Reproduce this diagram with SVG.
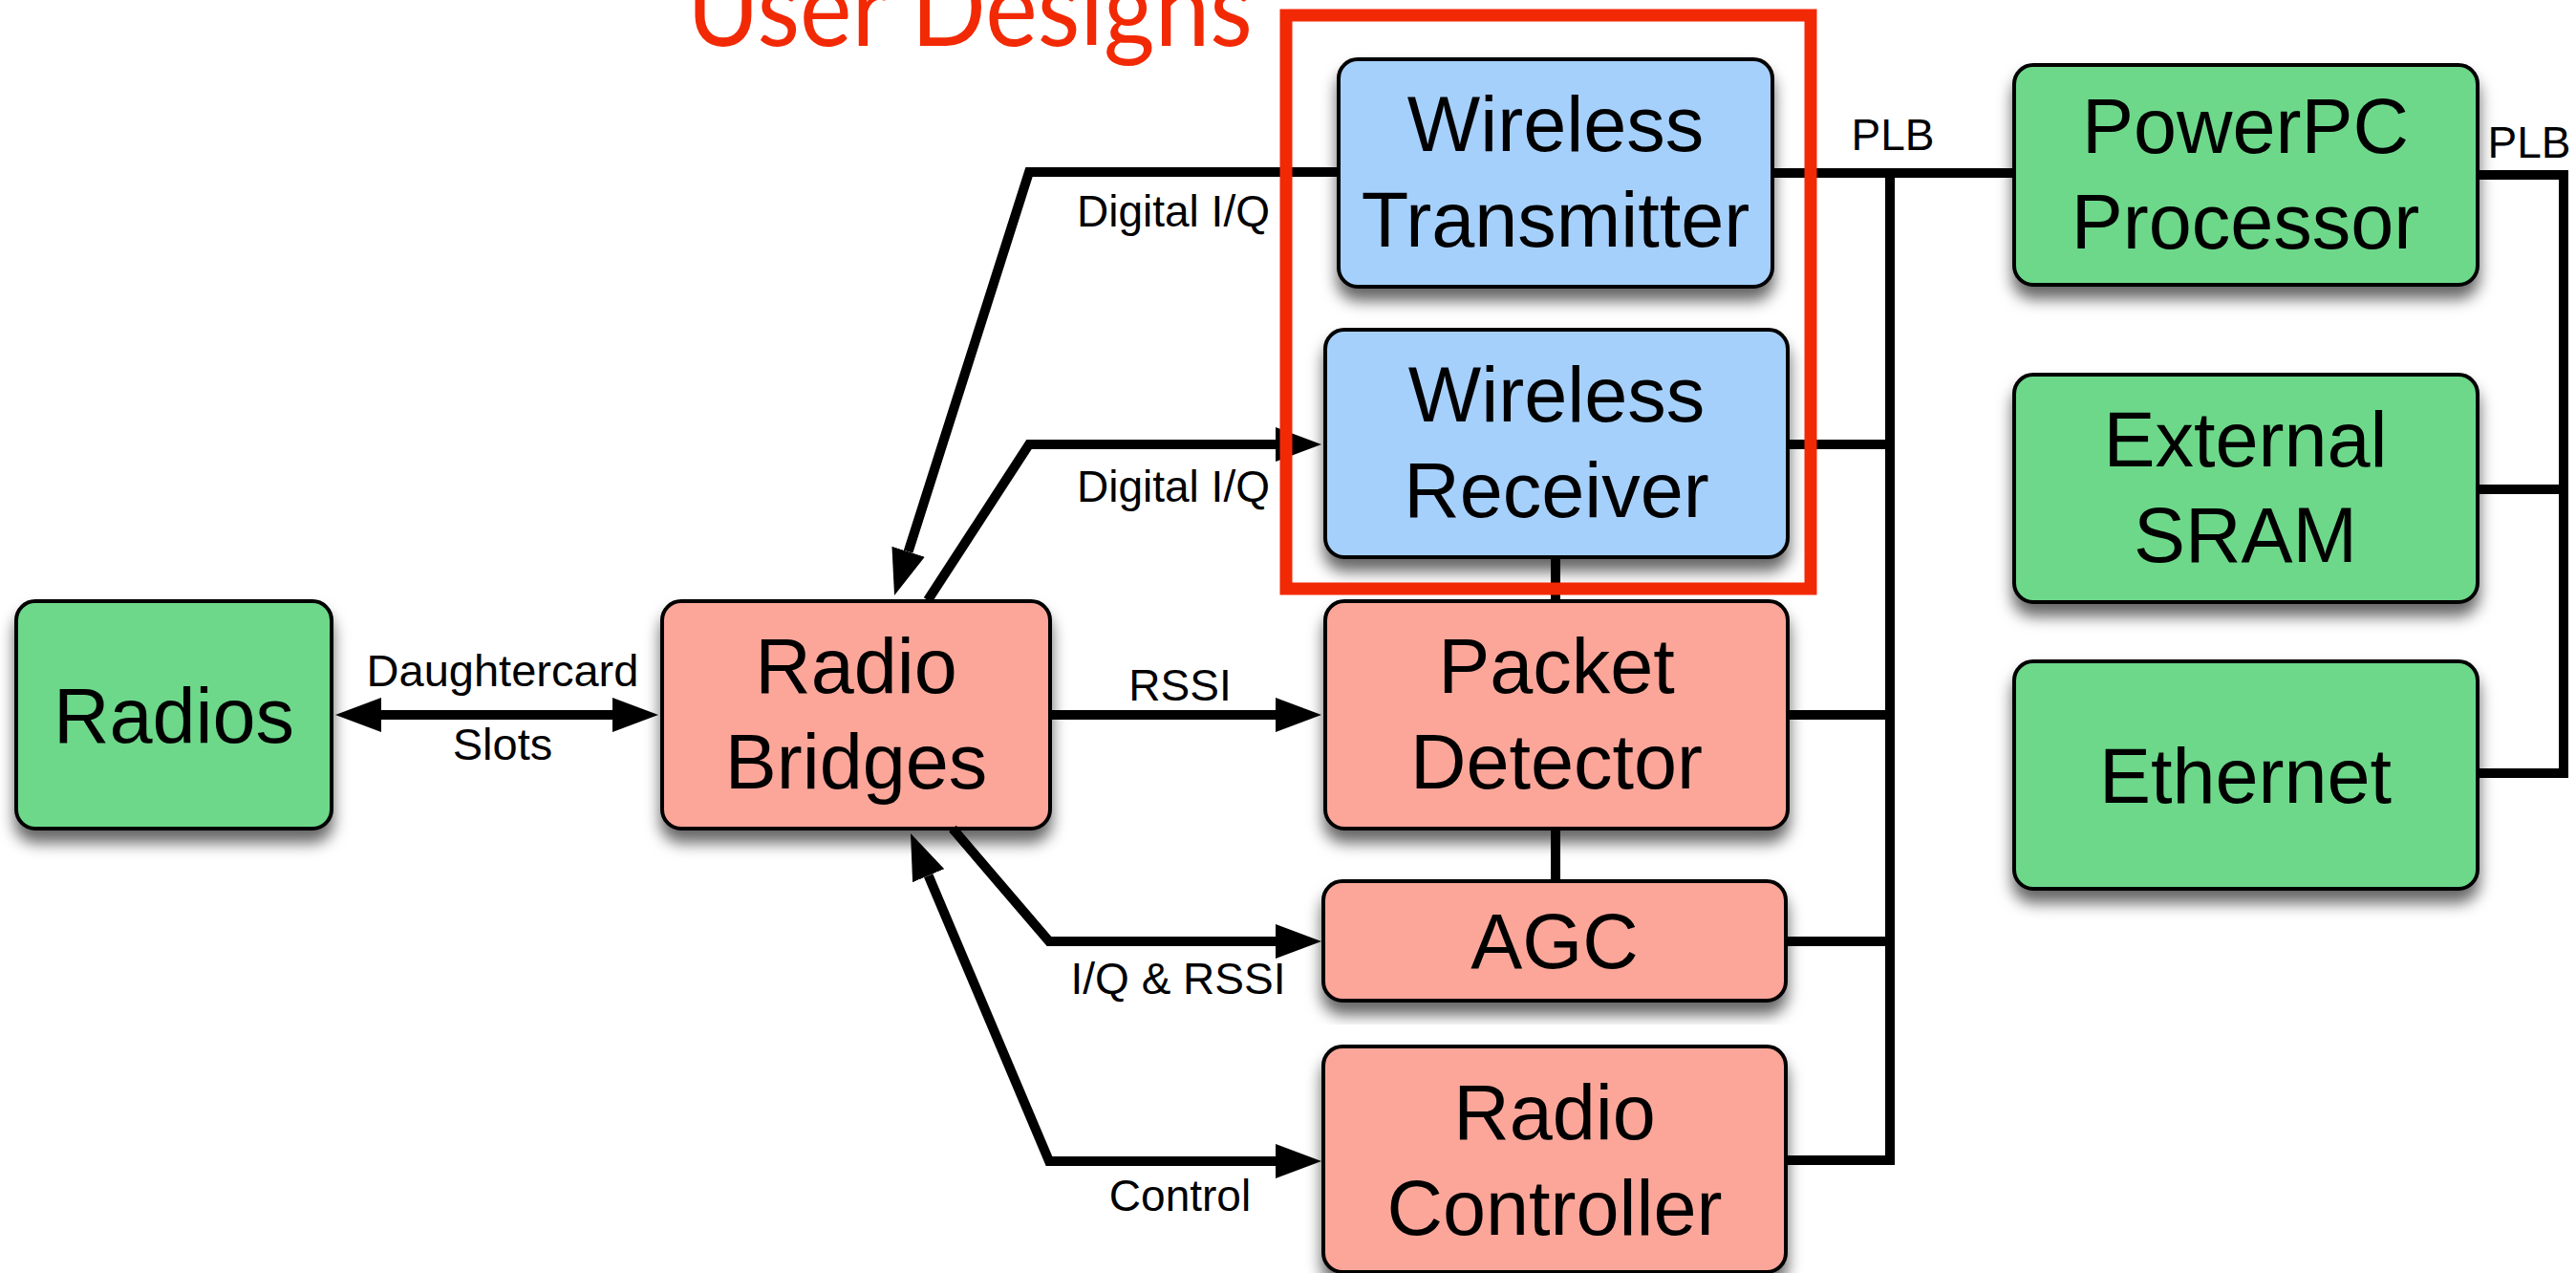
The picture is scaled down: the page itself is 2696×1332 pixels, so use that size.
<svg xmlns="http://www.w3.org/2000/svg" width="2696" height="1332" viewBox="0 0 2696 1332">
<style>
.box{stroke:#000;stroke-width:4}
.blue{fill:#A6D0FC}
.green{fill:#6DD88A}
.salmon{fill:#FCA69A}
.t{font-family:"Liberation Sans",Arial,Helvetica,sans-serif;font-size:81px;fill:#000;text-anchor:middle}
.l{font-family:"Liberation Sans",Arial,Helvetica,sans-serif;font-size:46px;fill:#000;text-anchor:middle}
.c{fill:none;stroke:#000;stroke-width:10;stroke-linejoin:miter}
</style>
<defs>
<filter id="sh" x="-10%" y="-10%" width="120%" height="130%">
<feDropShadow dx="0" dy="13" stdDeviation="8" flood-color="#000" flood-opacity="0.6"/>
</filter>
<marker id="ah" viewBox="0 0 48 36" refX="0" refY="18" markerWidth="48" markerHeight="36" markerUnits="userSpaceOnUse" orient="auto-start-reverse">
<path d="M0,0 L48,18 L0,36 z" fill="#000"/>
</marker>
</defs>

<g id="radios" filter="url(#sh)"><rect class="box green" x="17" y="629" width="330" height="238" rx="20"/><text class="t" x="182" y="777">Radios</text></g>
<g id="radio-bridges" filter="url(#sh)"><rect class="box salmon" x="693" y="629" width="406" height="238" rx="20"/><text class="t" x="896" y="725">Radio</text><text class="t" x="896" y="825">Bridges</text></g>
<g id="wireless-transmitter" filter="url(#sh)"><rect class="box blue" x="1401" y="62" width="454" height="238" rx="20"/><text class="t" x="1628" y="158">Wireless</text><text class="t" x="1628" y="258">Transmitter</text></g>
<g id="wireless-receiver" filter="url(#sh)"><rect class="box blue" x="1387" y="345" width="484" height="238" rx="20"/><text class="t" x="1629" y="441">Wireless</text><text class="t" x="1629" y="541">Receiver</text></g>
<g id="packet-detector" filter="url(#sh)"><rect class="box salmon" x="1387" y="629" width="484" height="238" rx="20"/><text class="t" x="1629" y="725">Packet</text><text class="t" x="1629" y="825">Detector</text></g>
<g id="agc" filter="url(#sh)"><rect class="box salmon" x="1385" y="922" width="484" height="125" rx="20"/><text class="t" x="1627" y="1013">AGC</text></g>
<g id="radio-controller" filter="url(#sh)"><rect class="box salmon" x="1385" y="1095" width="484" height="236" rx="20"/><text class="t" x="1627" y="1192">Radio</text><text class="t" x="1627" y="1292">Controller</text></g>
<g id="powerpc" filter="url(#sh)"><rect class="box green" x="2108" y="68" width="485" height="230" rx="20"/><text class="t" x="2350" y="160">PowerPC</text><text class="t" x="2350" y="260">Processor</text></g>
<g id="external-sram" filter="url(#sh)"><rect class="box green" x="2108" y="392" width="485" height="238" rx="20"/><text class="t" x="2350" y="488">External</text><text class="t" x="2350" y="588">SRAM</text></g>
<g id="ethernet" filter="url(#sh)"><rect class="box green" x="2108" y="692" width="485" height="238" rx="20"/><text class="t" x="2350" y="840">Ethernet</text></g>

<g id="connectors">
<path class="c" d="M399,748 L641,748" marker-start="url(#ah)" marker-end="url(#ah)"/>
<path class="c" d="M1401,180 L1077,180 L950.6,577.3" marker-end="url(#ah)"/>
<path class="c" d="M971,628 L1077,465 L1335,465" marker-end="url(#ah)"/>
<path class="c" d="M1099,748 L1335,748" marker-end="url(#ah)"/>
<path class="c" d="M997,867 L1098,985 L1335,985" marker-end="url(#ah)"/>
<path class="c" d="M971.7,916.2 L1098,1215 L1335,1215" marker-start="url(#ah)" marker-end="url(#ah)"/>
<path class="c" d="M1628,583 L1628,629 M1628,867 L1628,922"/>
<path class="c" d="M1855,181 L2108,181"/>
<path class="c" d="M1869,1214 L1978,1214 L1978,181"/>
<path class="c" d="M1871,465 L1978,465 M1871,748 L1978,748 M1869,985 L1978,985"/>
<path class="c" d="M2593,183 L2683,183 L2683,809 L2593,809 M2593,512 L2683,512"/>
<text class="l" x="1228" y="237">Digital I/Q</text>
<text class="l" x="1228" y="525">Digital I/Q</text>
<text class="l" x="1235" y="733">RSSI</text>
<text class="l" x="526" y="718" style="font-size:47px">Daughtercard</text>
<text class="l" x="526" y="795" style="font-size:47px">Slots</text>
<text class="l" x="1233" y="1040">I/Q &amp; RSSI</text>
<text class="l" x="1235" y="1267">Control</text>
<text class="l" x="1981" y="157">PLB</text>
<text class="l" x="2647" y="165">PLB</text>
</g>

<g id="user-designs">
<rect x="1346" y="16" width="549" height="600" fill="none" stroke="#F22905" stroke-width="13"/>
<text x="719" y="48" font-family="Lato,'Open Sans',sans-serif" font-size="112" fill="#F22905" textLength="592" lengthAdjust="spacingAndGlyphs">User Designs</text>
</g>
</svg>
